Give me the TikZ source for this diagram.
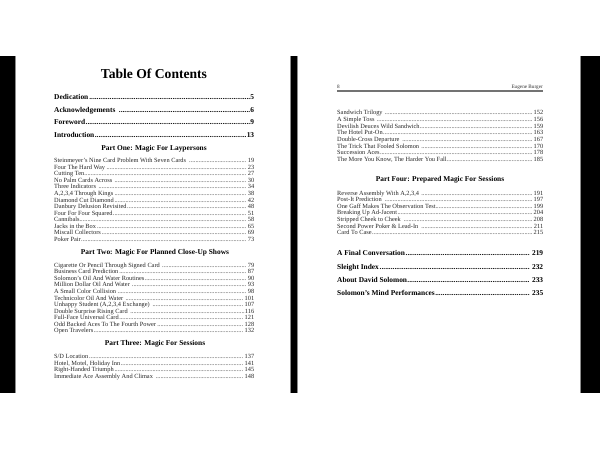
\documentclass[tikz,border=0pt]{standalone}
\usepackage{fontspec}
\setmainfont{Liberation Serif}
\newcommand\leadline[3]{\hbox to #1{#2\leaders\hbox{.}\hfill#3}}
\tikzset{
  pagetitle/.style={inner sep=0pt, font=\bfseries\fontsize{13.6}{13.6}\selectfont},
  major/.style={anchor=base west, inner sep=0pt, font=\bfseries\fontsize{7.4}{7.4}\selectfont},
  minor/.style={anchor=base west, inner sep=0pt, font=\fontsize{6.35}{6.35}\selectfont, text=black!85},
  parthead/.style={anchor=base, inner sep=0pt, font=\bfseries\fontsize{7.4}{7.4}\selectfont},
  header/.style={inner sep=0pt, font=\fontsize{5.2}{5.2}\selectfont, text=black!80},
  band/.style={fill=black},
  bandedge/.style={draw=black!45, line width=0.8pt}
}
\begin{document}
\begin{tikzpicture}[x=1pt,y=-1pt]
\useasboundingbox (0,0) rectangle (600,450);
\fill[white] (0,0) rectangle (600,450);
% black bands between pages
\fill[band] (0,56) rectangle (15,393);
\fill[band] (291,56) rectangle (297,393);
\fill[band] (581,56) rectangle (600,393);
\draw[bandedge] (15.4,56) -- (15.4,393);
\draw[bandedge] (290.6,56) -- (290.6,393);
\draw[bandedge] (297.4,56) -- (297.4,393);
\draw[bandedge] (580.6,56) -- (580.6,393);

% ---------- left page ----------
\node[pagetitle] (title) at (154,73.5) {Table Of Contents};
\node[major] (ded) at (54,99.5) {\leadline{200pt}{Dedication}{5}};
\node[major] (ack) at (54,112.2) {\leadline{200pt}{Acknowledgements }{6}};
\node[major] (fore) at (54,124.8) {\leadline{200pt}{Foreword}{9}};
\node[major] (intro) at (54,137.5) {\leadline{200pt}{Introduction}{13}};

\node[parthead] (p1) at (154,150) {Part One: Magic For Laypersons};
\foreach \t/\p [count=\i] in {
  {Steinmeyer's Nine Card Problem With Seven Cards }/19,
  {Four The Hard Way}/23,
  {Cutting Ten}/27,
  {No Palm Cards Across }/30,
  {Three Indicators }/34,
  {A,2,3,4 Through Kings}/38,
  {Diamond Cut Diamond}/42,
  {Danbury Delusion Revisited}/48,
  {Four For Four Squared}/51,
  {Cannibals}/58,
  {Jacks in the Box}/65,
  {Miscall Collectors}/69,
  {Poker Pair}/73}
  \node[minor] (a\i) at (54,{162.7+(\i-1)*6.55}) {\leadline{200pt}{\t}{\p}};

\node[parthead] (p2) at (155,254.2) {Part Two: Magic For Planned Close-Up Shows};
\foreach \t/\p [count=\i] in {
  {Cigarette Or Pencil Through Signed Card }/79,
  {Business Card Prediction}/87,
  {Solomon's Oil And Water Routines}/90,
  {Million Dollar Oil And Water }/93,
  {A Small Color Collision}/98,
  {Technicolor Oil And Water }/101,
  {Unhappy Student (A,2,3,4 Exchange) }/107,
  {Double Surprise Rising Card }/116,
  {Full-Face Universal Card}/121,
  {Odd Backed Aces To The Fourth Power}/128,
  {Open Travelers}/132}
  \node[minor] (b\i) at (54,{267.3+(\i-1)*6.55}) {\leadline{200pt}{\t}{\p}};

\node[parthead] (p3) at (155,345.8) {Part Three: Magic For Sessions};
\foreach \t/\p [count=\i] in {
  {S/D Location}/137,
  {Hotel, Motel, Holiday Inn}/141,
  {Right-Handed Triumph}/145,
  {Immediate Ace Assembly And Climax }/148}
  \node[minor] (c\i) at (54,{358.7+(\i-1)*6.55}) {\leadline{200pt}{\t}{\p}};

% ---------- right page ----------
\node[header, anchor=base west] (pgno) at (337,88.8) {8};
\node[header, anchor=base east] (author) at (543,88.8) {Eugene Burger};
\coordinate (rulel) at (337,91);
\coordinate (ruler) at (543,91);
\draw[black!55, line width=1.2pt] (rulel) -- (ruler);

\foreach \t/\p [count=\i] in {
  {Sandwich Trilogy }/152,
  {A Simple Toss }/156,
  {Devilish Deuces Wild Sandwich}/159,
  {The Hotel Put-On}/163,
  {Double-Cross Departure }/167,
  {The Trick That Fooled Solomon }/170,
  {Succession Aces}/178,
  {The More You Know, The Harder You Fall}/185}
  \node[minor] (d\i) at (337,{114.8+(\i-1)*6.65}) {\leadline{206pt}{\t}{\p}};

\node[parthead] (p4) at (440,181.8) {Part Four: Prepared Magic For Sessions};
\foreach \t/\p [count=\i] in {
  {Reverse Assembly With A,2,3,4 }/191,
  {Post-It Prediction }/197,
  {One Gaff Makes The Observation Test}/199,
  {Breaking Up Ad-Jacent}/204,
  {Stripped Cheek to Cheek }/208,
  {Second Power Poker \& Lead-In }/211,
  {Card To Case}/215}
  \node[minor] (e\i) at (337,{195.3+(\i-1)*6.55}) {\leadline{206pt}{\t}{\p}};

\node[major] (final) at (337,255.8) {\leadline{206pt}{A Final Conversation}{ 219}};
\node[major] (sleight) at (337,269.2) {\leadline{206pt}{Sleight Index}{ 232}};
\node[major] (about) at (337,282.5) {\leadline{206pt}{About David Solomon}{ 233}};
\node[major] (mind) at (337,295.8) {\leadline{206pt}{Solomon's Mind Performances}{ 235}};
\end{tikzpicture}
\end{document}
